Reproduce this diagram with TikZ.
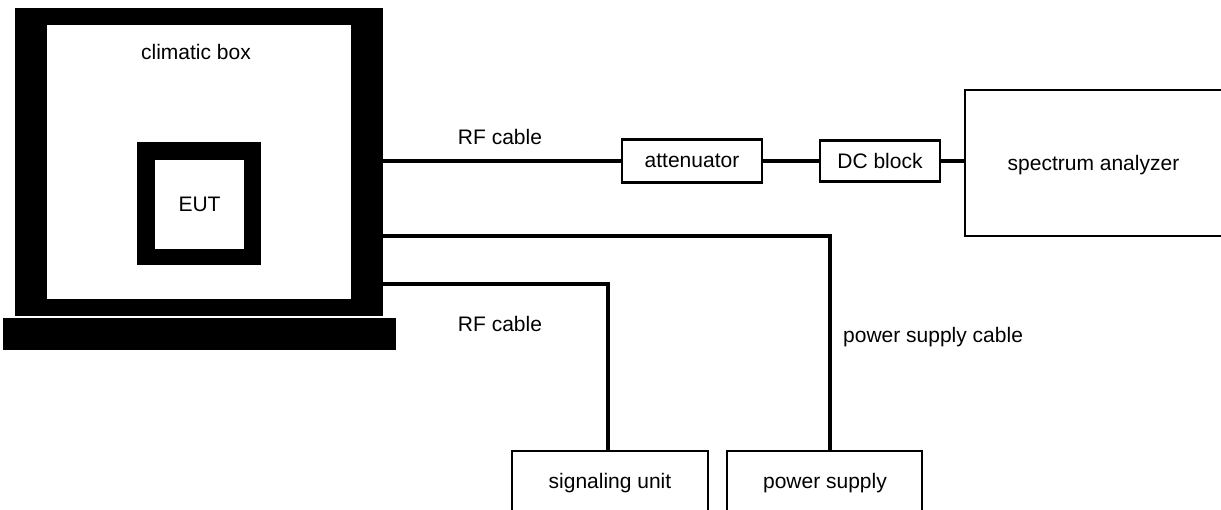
\documentclass[tikz,border=0pt]{standalone}
\usepackage{fontspec}
\setmainfont{Liberation Sans}
\begin{document}
\begin{tikzpicture}[x=1pt,y=-1pt,
  lbl/.style={anchor=base,inner sep=0pt,font=\fontsize{21}{25}\selectfont},
  blk/.style={fill=black,draw=none,inner sep=0pt,outer sep=0pt},
  wht/.style={fill=white,draw=none,inner sep=0pt,outer sep=0pt},
  unitbox/.style={draw=black,line width=2.2pt,fill=white,inner sep=0pt,outer sep=0pt,font=\fontsize{21}{25}\selectfont},
  thinbox/.style={draw=black,line width=1.6pt,fill=white,inner sep=0pt,outer sep=0pt},
  cable/.style={line width=4pt,line join=miter}]
\useasboundingbox (0,0) rectangle (1221,510);
\fill[white] (0,0) rectangle (1221,510);
% climatic box
\node[blk,minimum width=368pt,minimum height=308pt] (box) at (199,162) {};
\node[wht,minimum width=304pt,minimum height=274pt] (boxin) at (199,162) {};
\node[blk,minimum width=393pt,minimum height=32pt] (base) at (199.5,334) {};
\node[blk,minimum width=124pt,minimum height=123pt] (eut) at (199,203.5) {};
\node[wht,minimum width=89pt,minimum height=89pt] (eutin) at (199.5,204.5) {};
\node[lbl] (tclim) at (196,60) {climatic box};
\node[lbl] (teut) at (199.5,212) {EUT};
% chain
\node[unitbox,minimum width=140pt,minimum height=43pt] (att) at (692,161) {attenuator};
\node[unitbox,minimum width=120pt,minimum height=41pt] (dc) at (880,161) {DC block};
\node[unitbox,minimum width=275pt,minimum height=146pt] (sa) at (1102.5,163) {};
\node[lbl] (tsa) at (1093.5,170.5) {spectrum analyzer};
% bottom units
\node[thinbox,minimum width=196pt,minimum height=109pt] (su) at (610,505.5) {};
\node[thinbox,minimum width=195pt,minimum height=109pt] (ps) at (824.5,505.5) {};
\node[lbl] (tsu) at (610,488) {signaling unit};
\node[lbl] (tps) at (825,488) {power supply};
% cables
\draw[cable] (box.east |- att.west) -- (att.west);
\draw[cable] (att.east) -- (dc.west);
\draw[cable] (dc.east) -- (dc.east -| sa.west);
\coordinate (pwr) at (830,236);
\coordinate (sig) at (608,284);
\draw[cable] (box.east |- pwr) -- (pwr) -- (pwr |- ps.north);
\draw[cable] (box.east |- sig) -- (sig) -- (sig |- su.north);
% cable labels
\node[lbl] (trf1) at (500,145) {RF cable};
\node[lbl] (trf2) at (500,332) {RF cable};
\node[lbl,anchor=base west] (tpc) at (843,343) {power supply cable};
\end{tikzpicture}
\end{document}
